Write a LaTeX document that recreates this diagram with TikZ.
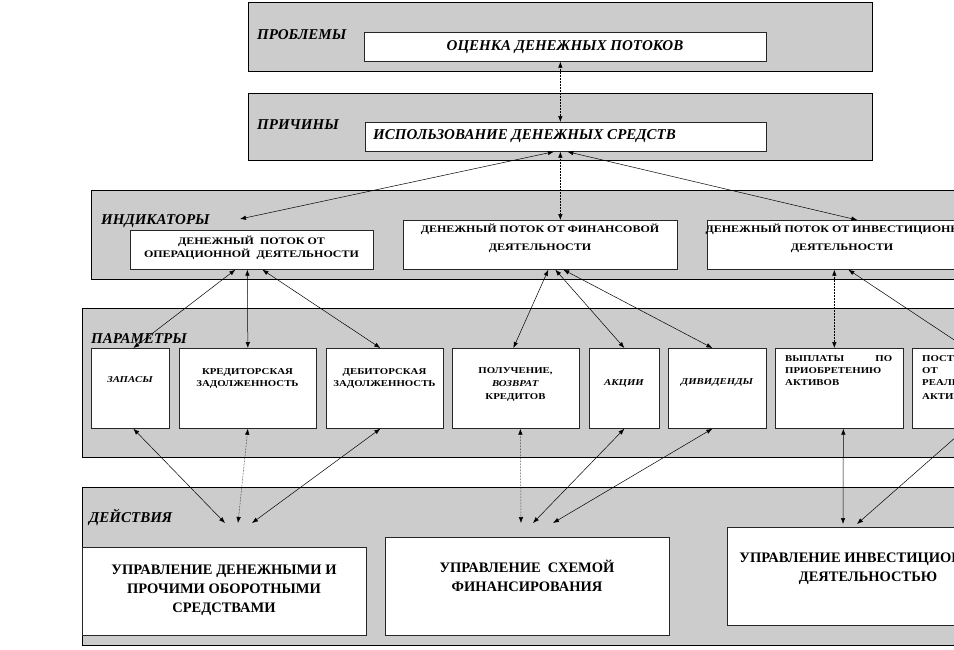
\documentclass[tikz,border=0pt]{standalone}
\usepackage{fontspec}
\setmainfont{Liberation Serif}
\newfontfamily\smf[FakeStretch=1.2]{Liberation Serif}
\usetikzlibrary{arrows.meta,calc}
\begin{document}
\begin{tikzpicture}[x=1pt,y=-1pt,
  band/.style={draw=black, fill=gray!40, line width=0.9pt, inner sep=0pt, anchor=north west},
  box/.style={draw=black!85, fill=white, line width=0.7pt, inner sep=0pt, anchor=north west},
  lab/.style={font=\fontsize{15}{17}\selectfont\bfseries\itshape, inner sep=0pt, anchor=west},
  big/.style={font=\fontsize{14.5}{19}\selectfont\bfseries, inner sep=0pt, align=center},
  mid/.style={font=\smf\fontsize{10}{13}\selectfont\bfseries, inner sep=0pt, align=center},
  sml/.style={font=\smf\fontsize{9}{12}\selectfont\bfseries, inner sep=0pt, align=center},
  arr/.style={{Latex[length=6pt,width=4.5pt]}-{Latex[length=6pt,width=4.5pt]}, line width=0.5pt},
  dotarr/.style={arr, densely dotted}]
\useasboundingbox (0,0) rectangle (954,649);
\clip (0,0) rectangle (954,649);
% bands
\node[band, minimum width=624pt, minimum height=69pt] (band1) at (248,2) {};
\node[band, minimum width=624pt, minimum height=67pt] (band2) at (248,93) {};
\node[band, minimum width=900pt, minimum height=89pt] (band3) at (91,190) {};
\node[band, minimum width=908pt, minimum height=149pt] (band4) at (82,308) {};
\node[band, minimum width=908pt, minimum height=158pt] (band5) at (82,487) {};
% band labels
\node[lab] (lprob) at (257,35) {ПРОБЛЕМЫ};
\node[lab] (lprich) at (257,125) {ПРИЧИНЫ};
\node[lab] (lind) at (101,221) {ИНДИКАТОРЫ};
\node[lab] (lpar) at (91,339) {ПАРАМЕТРЫ};
\node[lab] (ldej) at (89,517) {ДЕЙСТВИЯ};
% boxes
\node[box, minimum width=402pt, minimum height=29pt] (p1) at (364,32) {};
\node[box, minimum width=401pt, minimum height=29pt] (p2) at (365,122) {};
\node[box, minimum width=243pt, minimum height=39pt] (op) at (130,230) {};
\node[box, minimum width=274pt, minimum height=49pt] (fin) at (403,220) {};
\node[box, minimum width=270pt, minimum height=49pt] (inv) at (707,220) {};
\node[box, minimum width=78pt, minimum height=80pt] (zap) at (91,348) {};
\node[box, minimum width=137pt, minimum height=80pt] (kred) at (179,348) {};
\node[box, minimum width=117pt, minimum height=80pt] (deb) at (326,348) {};
\node[box, minimum width=127pt, minimum height=80pt] (pol) at (452,348) {};
\node[box, minimum width=70pt, minimum height=80pt] (akc) at (589,348) {};
\node[box, minimum width=98pt, minimum height=80pt] (div) at (668,348) {};
\node[box, minimum width=128pt, minimum height=80pt] (vyp) at (775,348) {};
\node[box, minimum width=128pt, minimum height=80pt] (post) at (912,348) {};
\node[box, minimum width=284pt, minimum height=88pt] (upA) at (82,547) {};
\node[box, minimum width=284pt, minimum height=98pt] (upB) at (385,537) {};
\node[box, minimum width=282pt, minimum height=98pt] (upC) at (727,527) {};
% texts
\node[lab, anchor=center] (t1) at (565,47) {ОЦЕНКА ДЕНЕЖНЫХ ПОТОКОВ};
\node[lab] (t2) at (373,136) {ИСПОЛЬЗОВАНИЕ ДЕНЕЖНЫХ СРЕДСТВ};
\node[mid] (top) at (251.5,248) {ДЕНЕЖНЫЙ\ \ ПОТОК ОТ\\ОПЕРАЦИОННОЙ\ \ ДЕЯТЕЛЬНОСТИ};
\node[mid, font=\smf\fontsize{10}{18}\selectfont\bfseries] (tfin) at (540,238) {ДЕНЕЖНЫЙ ПОТОК ОТ ФИНАНСОВОЙ\\ДЕЯТЕЛЬНОСТИ};
\node[mid, font=\smf\fontsize{10}{18}\selectfont\bfseries] (tinv) at (842,238) {ДЕНЕЖНЫЙ ПОТОК ОТ ИНВЕСТИЦИОННОЙ\\ДЕЯТЕЛЬНОСТИ};
\node[sml, font=\smf\fontsize{9}{12}\selectfont\bfseries\itshape] (tzap) at (130,380) {ЗАПАСЫ};
\node[sml] (tkred) at (247.5,378) {КРЕДИТОРСКАЯ\\ЗАДОЛЖЕННОСТЬ};
\node[sml] (tdeb) at (384.5,378) {ДЕБИТОРСКАЯ\\ЗАДОЛЖЕННОСТЬ};
\node[sml, font=\smf\fontsize{9}{13}\selectfont\bfseries] (tpol) at (515.5,384) {ПОЛУЧЕНИЕ,\\\textit{ВОЗВРАТ}\\КРЕДИТОВ};
\node[sml, font=\smf\fontsize{9}{12}\selectfont\bfseries\itshape] (takc) at (624,383) {АКЦИИ};
\node[sml, font=\smf\fontsize{9}{12}\selectfont\bfseries\itshape] (tdiv) at (717,383) {ДИВИДЕНДЫ};
\node[sml, align=left, text width=107pt, anchor=north west] (tvyp) at (785,355) {ВЫПЛАТЫ\hfill ПО\\ПРИОБРЕТЕНИЮ\\АКТИВОВ};
\node[sml, align=left, text width=107pt, anchor=north west] (tpost) at (922,355) {ПОСТУПЛЕНИЯ\\ОТ\\РЕАЛИЗАЦИИ\\[2pt]АКТИВОВ};
\node[big] (tA) at (224,590) {УПРАВЛЕНИЕ ДЕНЕЖНЫМИ И\\ПРОЧИМИ ОБОРОТНЫМИ\\СРЕДСТВАМИ};
\node[big] (tB) at (527,576) {УПРАВЛЕНИЕ\ \ СХЕМОЙ\\ФИНАНСИРОВАНИЯ};
\node[big] (tC) at (868,567) {УПРАВЛЕНИЕ ИНВЕСТИЦИОННОЙ\\ДЕЯТЕЛЬНОСТЬЮ};
% free ends
\coordinate (indpt) at (240,219);
\coordinate (a1) at (225,523);
\coordinate (a2) at (238,523);
\coordinate (a3) at (252,523);
\coordinate (b1) at (521,523);
\coordinate (b2) at (533,523);
\coordinate (b3) at (553,523);
\coordinate (c1) at (843,524);
\coordinate (c2) at (857,524);
% connectors
\draw[dotarr] ([xshift=-5pt]p1.south) -- ([xshift=-5.5pt]p2.north);
\draw[arr] ([xshift=-12pt]p2.south) -- (indpt);
\draw[dotarr] ([xshift=-5.5pt]p2.south) -- ([xshift=20pt]fin.north);
\draw[arr] ([xshift=1.5pt]p2.south) -- ([xshift=15pt]inv.north);
\draw[arr] ([xshift=-16.5pt]op.south) -- ([xshift=3pt]zap.north);
\draw[arr] ([xshift=-4.5pt]op.south) -- (kred.north);
\draw[arr] ([xshift=10.5pt]op.south) -- ([xshift=-4.5pt]deb.north);
\draw[arr] ([xshift=8pt]fin.south) -- ([xshift=-2.5pt]pol.north);
\draw[arr] ([xshift=15pt]fin.south) -- (akc.north);
\draw[arr] ([xshift=23pt]fin.south) -- ([xshift=-5pt]div.north);
\draw[dotarr] ([xshift=-8pt]inv.south) -- ([xshift=-5pt]vyp.north);
\draw[arr] ([xshift=6pt]inv.south) -- ([xshift=-10pt]post.north);
\draw[arr] ([xshift=3pt]zap.south) -- (a1);
\draw[dotarr] (kred.south) -- (a2);
\draw[arr] ([xshift=-4.5pt]deb.south) -- (a3);
\draw[dotarr] ([xshift=4.5pt]pol.south) -- (b1);
\draw[arr] (akc.south) -- (b2);
\draw[arr] ([xshift=-5pt]div.south) -- (b3);
\draw[arr] ([xshift=4pt]vyp.south) -- (c1);
\draw[arr] ([xshift=-11pt]post.south) -- (c2);
\end{tikzpicture}
\end{document}
